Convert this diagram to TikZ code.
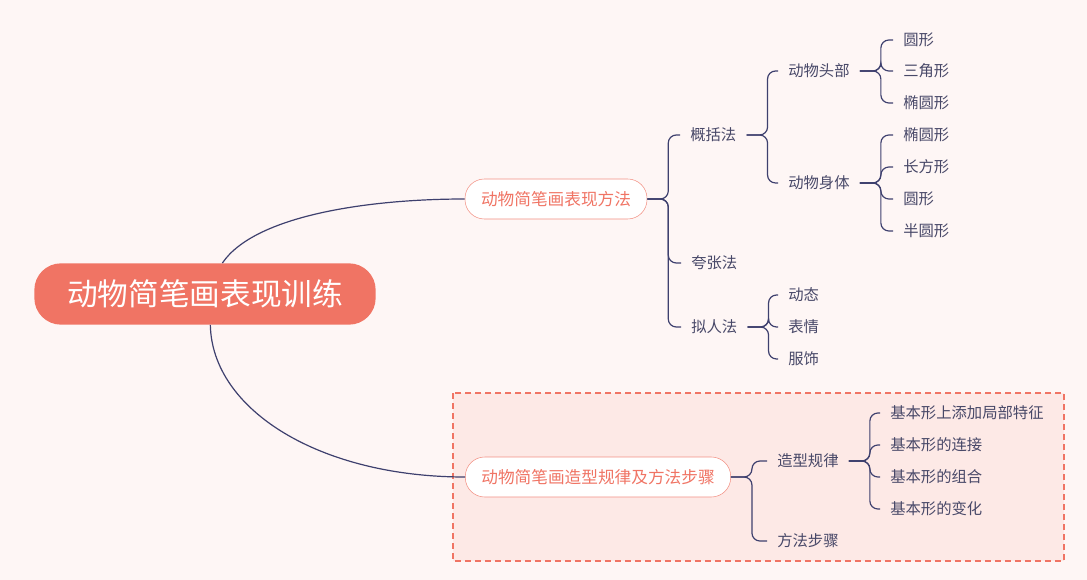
\documentclass[tikz,border=0pt]{standalone}
\usepackage{fontspec}
\setmainfont{Noto Sans CJK SC}
\usetikzlibrary{positioning}
\definecolor{bgpink}{RGB}{254,246,245}
\definecolor{boxpink}{RGB}{253,233,230}
\definecolor{salmon}{RGB}{240,116,100}
\definecolor{navy}{RGB}{62,64,110}
\definecolor{inkgray}{RGB}{72,72,104}
\tikzset{
  rootnode/.style={
    rectangle, fill=salmon, rounded corners=20pt, text=white,
    minimum width=256pt, minimum height=46pt, font=\fontsize{23}{26}\selectfont
  },
  topicnode/.style={
    rectangle, draw=salmon!80, fill=white, rounded corners=14.5pt, text=salmon,
    minimum height=30pt, inner xsep=12pt, font=\fontsize{12.5}{15}\selectfont
  },
  leafnode/.style={anchor=west, inner xsep=7.5pt, text=inkgray, font=\fontsize{11.5}{14}\selectfont},
  branch/.style={draw=navy, line width=0.9pt, rounded corners=6pt}
}

\begin{document}
\begin{tikzpicture}[x=0.75pt, y=-0.75pt]
        \fill[bgpink] (0,0) rectangle (1087,580);
        \draw[salmon, line width=0.9pt, dash pattern=on 4.5pt off 3pt,
              fill=boxpink] (453,393) rectangle (1064,561);

        \node[rootnode]  (root) at (205,294) {动物简笔画表现训练};
        \node[topicnode] (fa)   at (556,199) {动物简笔画表现方法};
        \node[topicnode] (zx)   at (598,477) {动物简笔画造型规律及方法步骤};

        \node[leafnode] (gk)  at (680,135) {概括法};
        \node[leafnode] (kz)  at (681,263) {夸张法};
        \node[leafnode] (nr)  at (681,327) {拟人法};
        \node[leafnode] (tb)  at (778,71)  {动物头部};
        \node[leafnode] (st)  at (778,183) {动物身体};
        \node[leafnode] (tb1) at (893,40)  {圆形};
        \node[leafnode] (tb2) at (893,71)  {三角形};
        \node[leafnode] (tb3) at (893,103) {椭圆形};
        \node[leafnode] (st1) at (893,135) {椭圆形};
        \node[leafnode] (st2) at (893,167) {长方形};
        \node[leafnode] (st3) at (893,199) {圆形};
        \node[leafnode] (st4) at (893,231) {半圆形};
        \node[leafnode] (nr1) at (778,295) {动态};
        \node[leafnode] (nr2) at (778,327) {表情};
        \node[leafnode] (nr3) at (778,359) {服饰};
        \node[leafnode] (gl)  at (767,461) {造型规律};
        \node[leafnode] (bz)  at (767,541) {方法步骤};
        \node[leafnode] (gl1) at (880,413) {基本形上添加局部特征};
        \node[leafnode] (gl2) at (880,445) {基本形的连接};
        \node[leafnode] (gl3) at (880,477) {基本形的组合};
        \node[leafnode] (gl4) at (880,509) {基本形的变化};

        % main branches
        \draw[branch] ([xshift=13pt]root.north) .. controls (255,215) and (370,199) .. (fa.west);
        \draw[branch] ([xshift=4pt]root.south) .. controls (212,410) and (320,477) .. (zx.west);

        \foreach \p/\c in {fa/gk,fa/kz,fa/nr,gk/tb,gk/st,tb/tb1,tb/tb2,tb/tb3,
                           st/st1,st/st2,st/st3,st/st4,nr/nr1,nr/nr2,nr/nr3,
                           zx/gl,zx/bz,gl/gl1,gl/gl2,gl/gl3,gl/gl4}
          \draw[branch] (\p.east) -- ++(21,0) |- (\c.west);
      \end{tikzpicture}
\end{document}
